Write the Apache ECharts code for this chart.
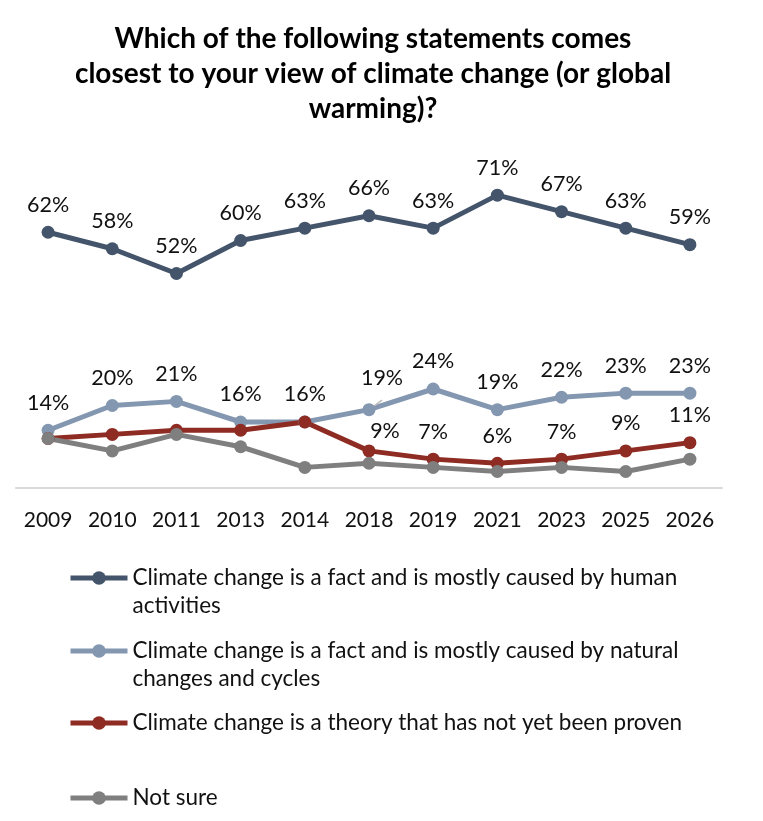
<!DOCTYPE html>
<html>
<head>
<meta charset="utf-8">
<script src="https://cdn.jsdelivr.net/npm/echarts@6/dist/echarts.min.js"></script>
<style>
  html, body { margin: 0; padding: 0; background: #fff; }
  #chart { width: 763px; height: 821px; }
</style>
</head>
<body>
<div id="chart"></div>
<script>
// ---------------- 데이터 ----------------
const years = ["2009", "2010", "2011", "2013", "2014", "2018", "2019", "2021", "2023", "2025", "2026"];
const humanVals = [62, 58, 52, 60, 63, 66, 63, 71, 67, 63, 59];
const naturalVals = [14, 20, 21, 16, 16, 19, 24, 19, 22, 23, 23];
const theoryVals = [12, 13, 14, 14, 16, 9, 7, 6, 7, 9, 11];
const notSureVals = [12, 9, 13, 10, 5, 6, 5, 4, 5, 4, 7];
// 라벨이 보이는 구간 (theory 는 2018 부터)
const theoryLabelFrom = 5;

const names = [
  "Climate change is a fact and is mostly caused by human\nactivities",
  "Climate change is a fact and is mostly caused by natural\nchanges and cycles",
  "Climate change is a theory that has not yet been proven",
  "Not sure",
];
const colors = ["#44546A", "#8497B0", "#8E2B22", "#7F7F7F"];

const FONT = "Lato, 'Open Sans', sans-serif";

let chartDom = document.getElementById("chart");
let myChart = echarts.init(chartDom);

function lineSeries(i, data, label) {
  return {
    name: names[i],
    type: "line",
    data: data,
    symbol: "circle",
    symbolSize: 13,
    lineStyle: { color: colors[i], width: 5 },
    itemStyle: { color: colors[i] },
    label: label,
  };
}

const baseLabel = {
  show: true,
  position: "top",
  distance: 10,
  formatter: "{c}%",
  color: "#111",
  fontFamily: FONT,
  fontSize: 21.5,
};

// 2018 라벨은 오른쪽으로 조금 (안내선)
const naturalData = naturalVals.map((v, i) =>
  i === 5
    ? { value: v, label: { offset: [13, -4] }, labelLine: { show: true, lineStyle: { color: "#bbb", width: 1.5 } } }
    : v
);
const theoryData = theoryVals.map((v, i) => {
  if (i < theoryLabelFrom) return { value: v, label: { show: false } };
  if (i === 5) return { value: v, label: { offset: [16, 8] } };
  return v;
});

// 범례 (각각 위치 고정) - 첫 줄 앞에 빈 줄을 넣어 아이콘을 첫 줄에 맞춤
const legendTops = [536, 609, 709, 784];
const legends = names.map((n, i) => ({
  data: [n],
  left: 68,
  top: legendTops[i],
  padding: 0,
  orient: "vertical",
  itemWidth: 57,
  itemHeight: 17,
  itemGap: 4,
  selectedMode: false,
  lineStyle: { width: 5 },
  formatter: (name) => (name.indexOf("\n") >= 0 ? "\n" + name : name),
  textStyle: {
    color: "#111",
    fontFamily: FONT,
    fontSize: 22.5,
    lineHeight: 28,
  },
}));

let option = {
  animation: false,
  title: {
    text: "Which of the following statements comes\nclosest to your view of climate change (or global\nwarming)?",
    left: 368,
    textAlign: "center",
    top: 16,
    textStyle: {
      fontFamily: FONT,
      fontSize: 28,
      fontWeight: "bold",
      color: "#000",
      lineHeight: 35,
    },
  },
  legend: legends,
  grid: {
    left: 16,
    right: 41,
    top: 158,
    bottom: 333,
    containLabel: false,
  },
  xAxis: {
    type: "category",
    data: years,
    boundaryGap: true,
    axisLine: { lineStyle: { color: "#D9D9D9", width: 2 } },
    axisTick: { show: false },
    axisLabel: {
      color: "#111",
      fontFamily: FONT,
      fontSize: 21,
      margin: 22,
    },
  },
  yAxis: {
    type: "value",
    min: 0,
    max: 80,
    show: false,
    splitLine: { show: false },
  },
  series: [
    lineSeries(0, humanVals, baseLabel),
    lineSeries(1, naturalData, baseLabel),
    lineSeries(2, theoryData, baseLabel),
    lineSeries(3, notSureVals, { show: false }),
  ],
};
myChart.setOption(option);

window.onresize = function () {
  myChart.resize();
};
</script>
</body>
</html>
